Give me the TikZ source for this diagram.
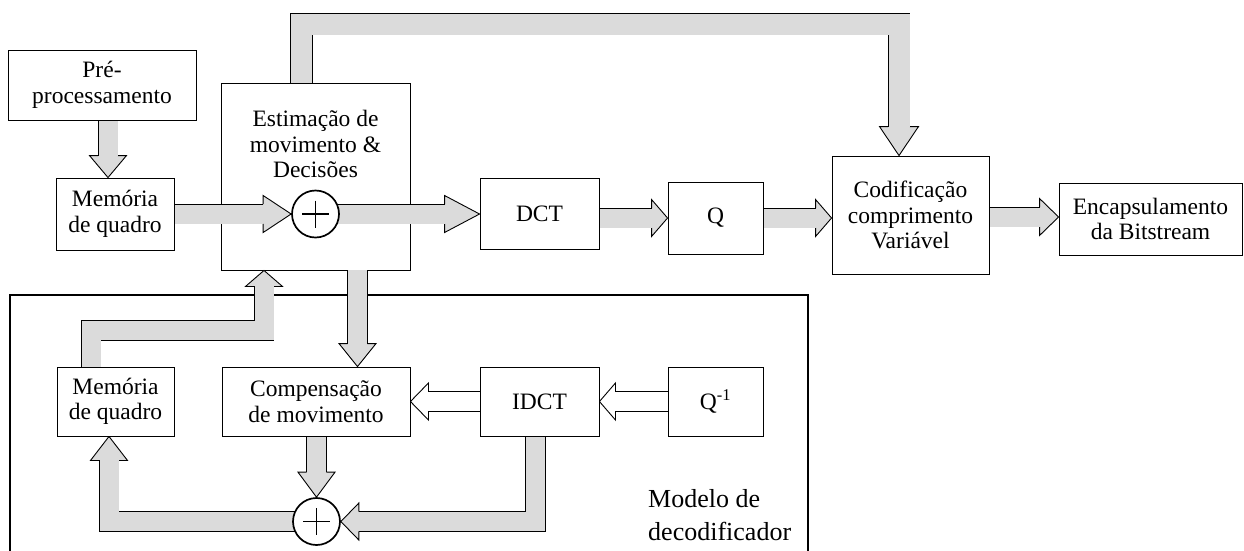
\documentclass[tikz,border=0pt]{standalone}
\usepackage{fontspec}
\setmainfont{Liberation Serif}
\usetikzlibrary{calc}
\pgfdeclarelayer{bottom}
\pgfdeclarelayer{arrows}
\pgfsetlayers{bottom,arrows,main}
\definecolor{stip}{gray}{0.86}

% band half width (to the outline) and head half width
\def\bw{9.95pt}
\def\hw{18.5pt}
% head of a wide arrow: [fill]{point it comes from}{tip}{head length};
% leaves (hb) at the base of the head, where the band ends
\newcommand\fathead[4][stip]{%
  \path ($(#3)!#4!(#2)$) coordinate (hb)
        ($(hb)!\hw!90:(#3)$) coordinate (hl)
        ($(hb)!\hw!-90:(#3)$) coordinate (hr)
        ($(hb)!\bw!90:(#3)$) coordinate (bl)
        ($(hb)!\bw!-90:(#3)$) coordinate (br);
  \fill[#1] (hl) -- (#3) -- (hr) -- cycle;
  \draw[edge] (bl) -- (hl) -- (#3) -- (hr) -- (br);
}

\tikzset{
  every node/.style={font=\fontsize{23.5}{25.5}\selectfont, align=center},
  box/.style={draw, line width=0.9pt, fill=white, inner sep=0pt},
  sum/.style={draw, circle, line width=1.7pt, fill=white, minimum size=47pt, inner sep=0pt},
  edge/.style={line width=0.9pt, line join=miter},
  band/.style={draw=black, line width=0.9pt, double=stip, double distance=19pt, line join=miter},
  whiteband/.style={band, double=white},
  plus/.style={line width=1.7pt},
}

\begin{document}
\begin{tikzpicture}[x=1pt, y=-1pt]
\useasboundingbox (0,0) rectangle (1244,550);

\begin{pgfonlayer}{bottom}
  \fill[white] (0,0) rectangle (1244,550);
  % decoder model frame
  \draw[line width=1.8pt] (10,570) -- (10,295) -- (808,295) -- (808,570);
  \node[box, minimum width=189pt, minimum height=187pt] (est) at (315.5,176.5) {};
\end{pgfonlayer}

% encoder blocks
\node[box, minimum width=188pt, minimum height=70pt] (pre) at (102,85) {Pré-\\processamento};
\node[box, minimum width=118pt, minimum height=72pt] (memA) at (115,214) {Memória\\de quadro};
\node[inner sep=0pt] (estT) at (315.5,144) {Estimação de\\movimento \&\\Decisões};
\node[sum] (addA) at (315.5,214) {};
\node[box, minimum width=119pt, minimum height=71pt] (dct) at (539.5,214) {DCT};
\node[box, minimum width=95pt, minimum height=72pt] (quant) at (715.5,218) {Q};
\node[box, minimum width=157pt, minimum height=118pt] (vlc) at (910.5,215) {Codificação\\comprimento\\Variável};
\node[box, minimum width=183pt, minimum height=72pt] (enc) at (1150.5,219) {Encapsulamento\\da Bitstream};

% decoder model blocks
\node[box, minimum width=117pt, minimum height=69pt] (memB) at (115.5,401.5) {Memória\\de quadro};
\node[box, minimum width=188pt, minimum height=69pt] (comp) at (316,401.5) {Compensação\\de movimento};
\node[box, minimum width=119pt, minimum height=69pt] (idct) at (539.5,401.5) {IDCT};
\node[box, minimum width=95pt, minimum height=69pt] (iquant) at (715.5,401.5) {Q\textsuperscript{-1}};
\node[sum] (addB) at (316.5,521.5) {};
\node[anchor=north west, inner sep=0pt, align=left, font=\fontsize{26}{33}\selectfont]
  (model) at (648,489) {Modelo de\\decodificador};

% plus signs
\foreach \s in {addA,addB}{
  \draw[plus] ($(\s)+(-13.5,0)$) -- ($(\s)+(13.5,0)$);
  \draw[plus] ($(\s)+(0,-13.5)$) -- ($(\s)+(0,13.5)$);
}

\begin{pgfonlayer}{arrows}
  % pre-processing -> frame memory
  \coordinate (pmT) at ($(memA.north)+(-7,0)$);
  \coordinate (pmS) at (pmT |- pre.center);
  \fathead{pmS}{pmT}{22pt}
  \draw[band] (pmS) -- (hb);

  % frame memory -> adder
  \fathead{memA.center}{addA.west}{28pt}
  \draw[band] (memA.center) -- (hb);

  % adder -> DCT
  \fathead{addA.center}{dct.west}{35pt}
  \draw[band] (addA.center) -- (hb);

  % DCT -> Q
  \coordinate (dqS) at (quant.west -| dct.center);
  \fathead{dqS}{quant.west}{16pt}
  \draw[band] (dqS) -- (hb);

  % Q -> variable length coding
  \coordinate (qvT) at (vlc.west |- quant.center);
  \fathead{quant.center}{qvT}{16pt}
  \draw[band] (quant.center) -- (hb);

  % variable length coding -> bitstream
  \coordinate (veT) at ($(enc.west)+(0,-2)$);
  \coordinate (veS) at (veT -| vlc.center);
  \fathead{veS}{veT}{19pt}
  \draw[band] (veS) -- (hb);

  % decisions -> variable length coding (over the top)
  \coordinate (tcA) at ($(est.north)+(-14,0)$);
  \coordinate (tcB) at ($(est.north)+(-14,-58.5)$);
  \coordinate (tcT) at ($(vlc.north)+(-11.5,0)$);
  \coordinate (tcC) at (tcT |- tcB);
  \def\bw{10.95pt}\def\hw{19.5pt}
  \fathead{tcC}{tcT}{29pt}
  \draw[band, double distance=21pt] (tcA) -- (tcB) -- (tcC) -- (hb);
  \def\bw{9.95pt}\def\hw{18.5pt}

  % estimation -> motion compensation
  \coordinate (ecT) at ($(comp.north)+(41.5,0)$);
  \coordinate (ecS) at (ecT |- est.south);
  \fathead{ecS}{ecT}{23pt}
  \draw[band] (ecS) -- (hb);

  % decoder frame memory -> estimation
  \coordinate (meA) at ($(memB.center)+(-24.5,0)$);
  \coordinate (meB) at ($(memB.north)+(-24.5,-36)$);
  \coordinate (meT) at ($(est.south)+(-51.5,0)$);
  \coordinate (meC) at (meT |- meB);
  \fathead{meC}{meT}{16pt}
  \draw[band] (meA) -- (meB) -- (meC) -- (hb);

  % motion compensation -> adder
  \coordinate (caS) at (addB.north |- comp.center);
  \fathead{caS}{addB.north}{25pt}
  \draw[band] (caS) -- (hb);

  % adder -> decoder frame memory
  \coordinate (amT) at ($(memB.south)+(-6.5,0)$);
  \coordinate (amB) at (amT |- addB.center);
  \fathead{amB}{amT}{24pt}
  \draw[band] (addB.center) -- (amB) -- (hb);

  % IDCT -> adder
  \coordinate (iaA) at ($(idct.center)+(-4,0)$);
  \coordinate (iaB) at (iaA |- addB.center);
  \fathead{iaB}{addB.east}{18pt}
  \draw[band] (iaA) -- (iaB) -- (hb);

  % IDCT -> motion compensation
  \fathead[white]{idct.center}{comp.east}{18pt}
  \draw[whiteband] (idct.center) -- (hb);

  % inverse quantiser -> IDCT
  \fathead[white]{iquant.center}{idct.east}{16pt}
  \draw[whiteband] (iquant.center) -- (hb);
\end{pgfonlayer}
\end{tikzpicture}
\end{document}
